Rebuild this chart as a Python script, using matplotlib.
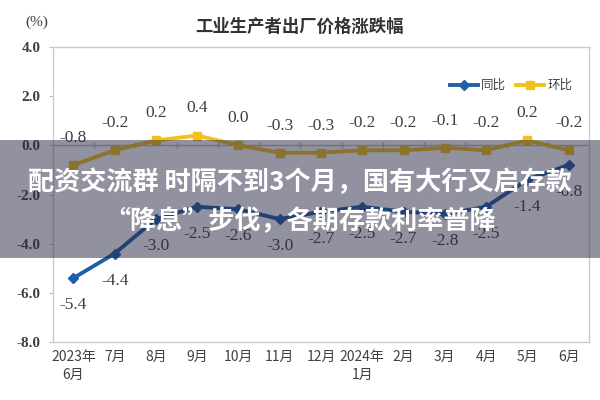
import matplotlib
matplotlib.use("Agg")
import matplotlib.pyplot as plt
import numpy as np
from matplotlib.lines import Line2D
from matplotlib.patches import Rectangle

months = ["2023年\n6月", "7月", "8月", "9月", "10月", "11月", "12月", "2024年\n1月",
          "2月", "3月", "4月", "5月", "6月"]
yoy = [-5.4, -4.4, -3.0, -2.5, -2.6, -3.0, -2.7, -2.5, -2.7, -2.8, -2.5, -1.4, -0.8]
mom = [-0.8, -0.2, 0.2, 0.4, 0.0, -0.3, -0.3, -0.2, -0.2, -0.1, -0.2, 0.2, -0.2]
yticks = [4.0, 2.0, 0.0, -2.0, -4.0, -6.0, -8.0]
title = "工业生产者出厂价格涨跌幅"
banner1 = "配资交流群 时隔不到3个月，国有大行又启存款"
banner2 = "“降息”步伐，各期存款利率普降"

CJK = ["Noto Sans CJK SC", "DejaVu Sans"]
SERIF = ["Liberation Serif", "Noto Sans CJK SC"]

blue = "#1f5fa8"
gold = "#f2c21b"
txt = "#404040"

fig = plt.figure(figsize=(6, 4), dpi=100)
ax = fig.add_axes([0.088, 0.145, 0.894, 0.7375])
x = np.arange(len(months))

ax.plot(x, yoy, color=blue, lw=2.8, marker="D", ms=5, zorder=3)
ax.plot(x, mom, color=gold, lw=2.8, marker="s", ms=6, zorder=3)

for xi, v in zip(x, yoy):
    ax.text(xi, v - 1.1, f"{v:.1f}", ha="center", va="center", fontsize=12.5,
            family=SERIF, color=txt)
for xi, v in zip(x, mom):
    ax.text(xi, v + 1.1, f"{v:.1f}", ha="center", va="center", fontsize=12.5,
            family=SERIF, color=txt)

ax.set_xlim(-0.5, len(months) - 0.5)
ax.set_ylim(-8, 4)
ax.set_yticks(yticks)
ax.set_yticklabels([f"{t:.1f}" for t in yticks], family=SERIF, fontsize=11,
                   fontweight="bold", color=txt)
ax.set_xticks(x)
ax.set_xticklabels(months, family=CJK, fontsize=10, color=txt, linespacing=1.3)
ax.tick_params(axis="x", length=0, pad=6)
ax.tick_params(axis="y", length=3, color="#bbbbbb", pad=6)
ax.axhline(0, color="#bbbbbb", lw=1, zorder=1)
ax.vlines(x[:-1] + 0.5, -0.12, 0.12, color="#bbbbbb", lw=1, zorder=1)
for s in ax.spines.values():
    s.set_color("#cccccc")
    s.set_linewidth(1)

handles = [Line2D([], [], color=blue, lw=2.8, marker="D", ms=5),
           Line2D([], [], color=gold, lw=2.8, marker="s", ms=6)]
ax.legend(handles, ["同比", "环比"], loc="upper right", ncol=2, frameon=False,
          prop={"family": CJK, "size": 9}, bbox_to_anchor=(0.99, 0.93),
          handlelength=2.2, columnspacing=0.8, handletextpad=0.3, labelcolor=txt)

fig.text(0.5, 0.932, title, ha="center", va="center", family=CJK, fontsize=12.5,
         fontweight="bold", color="#333333")
fig.text(0.062, 0.945, "(%)", ha="center", va="center", family=SERIF, fontsize=11,
         color=txt)

fig.patches.append(Rectangle((0, 0.355), 1, 0.295, transform=fig.transFigure,
                             facecolor="#252540", alpha=0.5, edgecolor="none",
                             zorder=10))
fig.text(0.5, 0.5425, banner1, ha="center", va="center", family=CJK, fontsize=18.8,
         fontweight="bold", color="white", zorder=11)
fig.text(0.5, 0.445, banner2, ha="center", va="center", family=CJK, fontsize=18.8,
         fontweight="bold", color="white", zorder=11)

fig.savefig("out.png", dpi=100)
